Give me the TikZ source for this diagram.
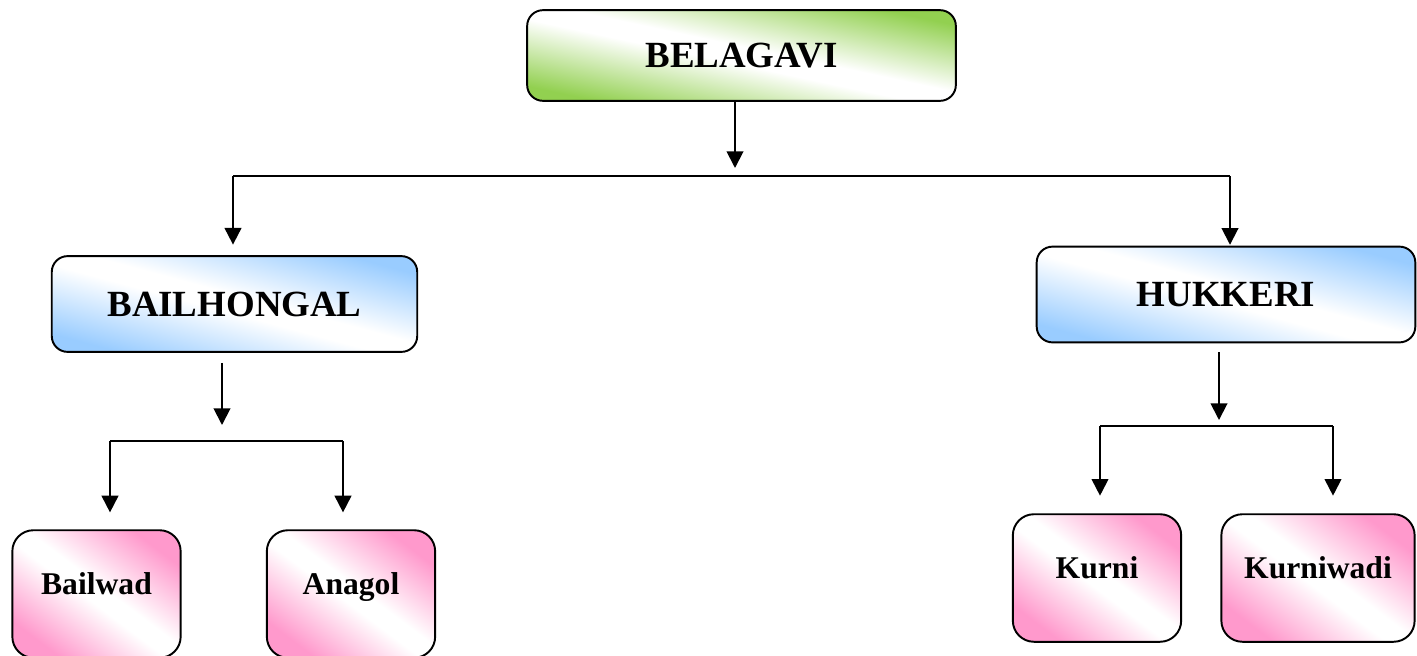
\documentclass[tikz,border=0pt]{standalone}
\usepackage{fontspec}
\setmainfont{Liberation Serif}
\usetikzlibrary{arrows.meta}

\definecolor{leafgreen}{RGB}{146,208,80}
\definecolor{skyblue}{RGB}{153,204,255}
\definecolor{rosepink}{RGB}{255,153,204}

\pgfdeclarehorizontalshading{greenband}{100bp}{color(0bp)=(leafgreen); color(25bp)=(leafgreen); color(47bp)=(white); color(53bp)=(white); color(75bp)=(leafgreen); color(100bp)=(leafgreen)}
\pgfdeclarehorizontalshading{blueband}{100bp}{color(0bp)=(skyblue); color(25bp)=(skyblue); color(47bp)=(white); color(53bp)=(white); color(75bp)=(skyblue); color(100bp)=(skyblue)}
\pgfdeclarehorizontalshading{pinkband}{100bp}{color(0bp)=(rosepink); color(25bp)=(rosepink); color(47bp)=(white); color(53bp)=(white); color(75bp)=(rosepink); color(100bp)=(rosepink)}

\tikzset{
  district/.style={draw, line width=1.1pt, rounded corners=9pt, shading=greenband, shading angle=78,
    minimum width=244pt, minimum height=51.6pt, font=\bfseries\fontsize{21}{25}\selectfont},
  taluk/.style={draw, line width=1.1pt, rounded corners=9pt, shading=blueband, shading angle=75,
    minimum height=54.5pt, font=\bfseries\fontsize{21}{25}\selectfont},
  village/.style={draw, line width=1.1pt, rounded corners=12pt, shading=pinkband, shading angle=53,
    minimum width=95.8pt, minimum height=72.6pt, text height=13pt, text depth=13pt,
    font=\bfseries\fontsize{18}{22}\selectfont},
  arrow/.style={line width=1.1pt, -{Triangle[width=9.5pt,length=9.5pt]}},
  bar/.style={line width=1.1pt}
}

\begin{document}
\begin{tikzpicture}[x=0.02cm, y=-0.02cm]
\useasboundingbox (0,0) rectangle (1417,656);
\clip (0,0) rectangle (1417,656);

% District
\node[district] (belagavi) at (741.5,55.5) {BELAGAVI};

% Taluks
\node[taluk, minimum width=208pt] (bailhongal) at (234.5,304) {BAILHONGAL};
\node[taluk, minimum width=215.5pt] (hukkeri) at (1226,294.5) {HUKKERI};

% Villages
\node[village] (bailwad) at (96.5,594) {Bailwad};
\node[village] (anagol) at (351,594) {Anagol};
\node[village] (kurni) at (1097,578) {Kurni};
\node[village, minimum width=110pt] (kurniwadi) at (1318,578) {Kurniwadi};

% Junction points
\coordinate (topjoin) at (735,168);
\coordinate (barL) at (233,176);
\coordinate (barR) at (1230,176);
\coordinate (leftjoin) at (222,425);
\coordinate (leftL) at (110,441);
\coordinate (leftR) at (343,441);
\coordinate (rightjoin) at (1219,420);
\coordinate (rightL) at (1100,426);
\coordinate (rightR) at (1333,426);

% District to taluks
\draw[arrow] (topjoin |- belagavi.south) -- (topjoin);
\draw[bar] (barL) -- (barR);
\draw[arrow, shorten >=6pt] (barL) -- (barL |- bailhongal.north);
\draw[arrow, shorten >=0.5pt] (barR) -- (barR |- hukkeri.north);

% Bailhongal to villages
\draw[arrow, shorten <=5.7pt] (leftjoin |- bailhongal.south) -- (leftjoin);
\draw[bar] (leftL) -- (leftR);
\draw[arrow, shorten >=9.6pt] (leftL) -- (leftL |- bailwad.north);
\draw[arrow, shorten >=9.6pt] (leftR) -- (leftR |- anagol.north);

% Hukkeri to villages
\draw[arrow, shorten <=5pt] (rightjoin |- hukkeri.south) -- (rightjoin);
\draw[bar] (rightL) -- (rightR);
\draw[arrow, shorten >=10pt] (rightL) -- (rightL |- kurni.north);
\draw[arrow, shorten >=10pt] (rightR) -- (rightR |- kurniwadi.north);

\end{tikzpicture}
\end{document}
